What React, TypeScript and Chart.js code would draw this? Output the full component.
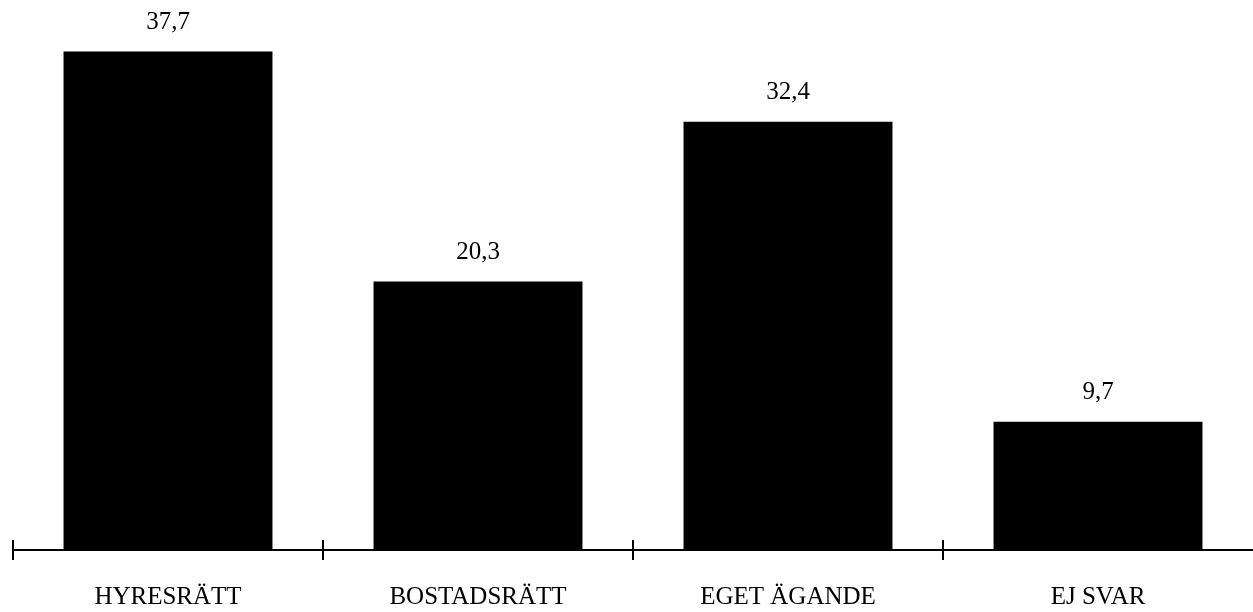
import React, { useEffect, useRef } from "react";
import { Chart, registerables } from "chart.js";

Chart.register(...registerables);

const categories = ["HYRESRÄTT", "BOSTADSRÄTT", "EGET ÄGANDE", "EJ SVAR"];
const values = [37.7, 20.3, 32.4, 9.7];

const FONT = "'Liberation Serif', 'Times New Roman', serif";

const valueLabelPlugin = {
  id: "valueLabels",
  afterDatasetsDraw(chart: any) {
    const ctx = chart.ctx;
    const meta = chart.getDatasetMeta(0);
    ctx.save();
    ctx.fillStyle = "#000";
    ctx.font = `25px ${FONT}`;
    ctx.textAlign = "center";
    ctx.textBaseline = "alphabetic";
    meta.data.forEach((bar: any, i: number) => {
      const txt = String(values[i]).replace(".", ",");
      ctx.fillText(txt, bar.x, bar.y - 23);
    });
    ctx.restore();
  },
};

const axisTicksPlugin = {
  id: "axisTicks",
  afterDraw(chart: any) {
    const ctx = chart.ctx;
    const x = chart.scales.x;
    const half = (x.getPixelForValue(1) - x.getPixelForValue(0)) / 2;
    const yAxis = chart.chartArea.bottom;
    ctx.save();
    ctx.strokeStyle = "#000";
    ctx.lineWidth = 2;
    categories.forEach((_, i) => {
      const px = Math.round(x.getPixelForValue(i) - half);
      ctx.beginPath();
      ctx.moveTo(px, yAxis - 10);
      ctx.lineTo(px, yAxis + 10);
      ctx.stroke();
    });
    ctx.restore();
  },
};

export default function App() {
  const ref = useRef<HTMLCanvasElement | null>(null);

  useEffect(() => {
    document.body.style.margin = "0";
    const canvas = ref.current;
    if (!canvas) return;
    const chart = new Chart(canvas, {
      type: "bar",
      data: {
        labels: categories,
        datasets: [
          {
            data: values,
            backgroundColor: "#000",
            borderWidth: 0,
            barPercentage: 0.674,
            categoryPercentage: 1,
          },
        ],
      },
      options: {
        animation: false,
        responsive: false,
        maintainAspectRatio: false,
        layout: { padding: { left: 13, right: 0, top: 0, bottom: -32 } },
        plugins: {
          legend: { display: false },
          tooltip: { enabled: false },
        },
        scales: {
          x: {
            grid: { display: false, drawTicks: false },
            border: { display: true, color: "#000", width: 2 },
            ticks: {
              color: "#000",
              padding: 32,
              font: { family: FONT, size: 25 },
              maxRotation: 0,
              autoSkip: false,
            },
          },
          y: {
            display: false,
            min: 0,
            max: 41.6,
          },
        },
      },
      plugins: [valueLabelPlugin, axisTicksPlugin],
    });
    return () => chart.destroy();
  }, []);

  return (
    <div style={{ width: 1253, height: 612, overflow: "hidden", background: "#fff" }}>
      <canvas ref={ref} width={1253} height={612} style={{ display: "block" }} />
    </div>
  );
}
